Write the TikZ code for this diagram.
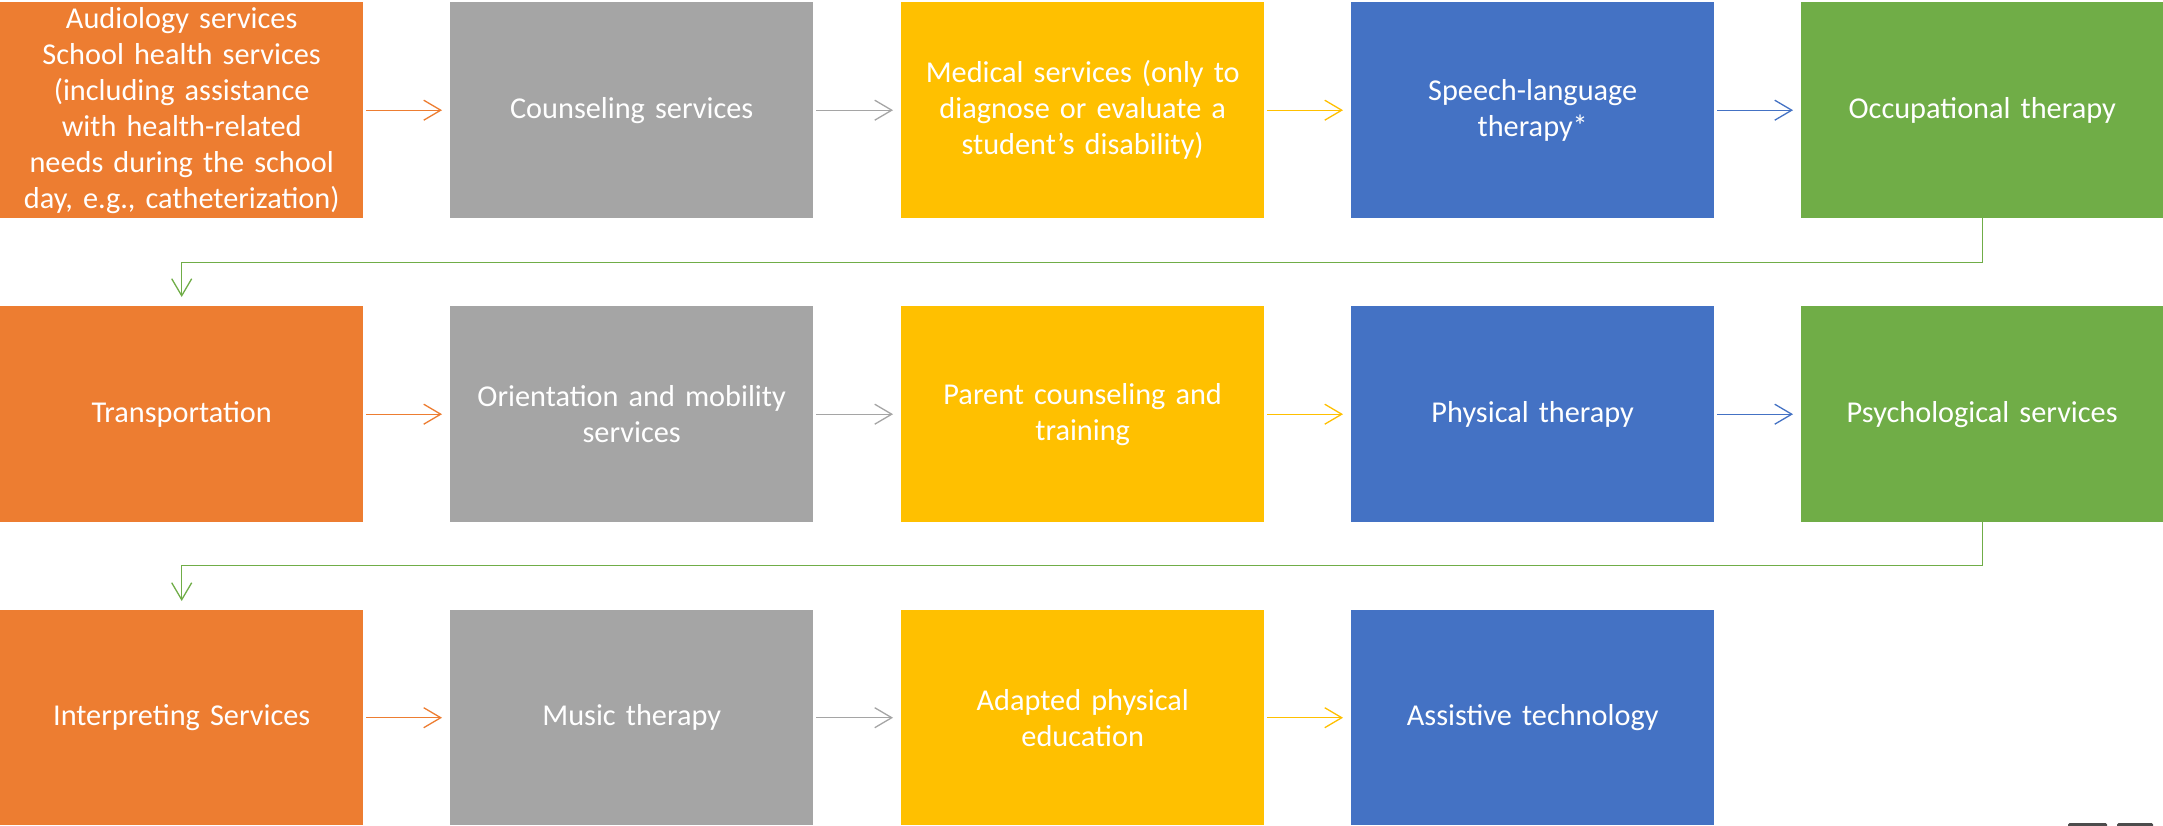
\documentclass[tikz,border=0pt]{standalone}
\usepackage{fontspec}
\setmainfont{Carlito}[WordSpace=0.8]
\usetikzlibrary{arrows.meta}
\definecolor{cOrange}{HTML}{ED7D31}
\definecolor{cGray}{HTML}{A5A5A5}
\definecolor{cGold}{HTML}{FFC000}
\definecolor{cBlue}{HTML}{4472C4}
\definecolor{cGreen}{HTML}{70AD47}
\tikzset{
  box/.style={anchor=north west, minimum width=363pt, minimum height=216pt, inner sep=0pt,
    text width=355pt, align=center, text=white,
    font=\fontsize{30.3}{36}\selectfont},
  obox/.style={box, fill=cOrange},
  gbox/.style={box, fill=cGray},
  ybox/.style={box, fill=cGold},
  bbox/.style={box, fill=cBlue},
  grbox/.style={box, fill=cGreen},
  arr/.style={line width=1.3pt, -{Straight Barb[length=17pt,width=20pt,line width=1.3pt]}},
  marker/.style={fill=black!70, rounded corners=1.5pt}
}
\begin{document}
\begin{tikzpicture}[x=1pt,y=-1pt]
\useasboundingbox[fill=white] (0,0) rectangle (2163,825);
% row 1
\node[obox] (a1) at (0,2) {Audiology services\\School health services\\(including assistance\\with health-related\\needs during the school\\day, e.g., catheterization)};
\node[gbox] (b1) at (450,2) {Counseling services};
\node[ybox] (c1) at (901,2) {Medical services (only to\\diagnose or evaluate a\\student’s disability)};
\node[bbox] (d1) at (1351,2) {Speech-language\\therapy*};
\node[grbox, minimum width=362pt] (e1) at (1801,2) {Occupational therapy};
% row 2
\node[obox] (a2) at (0,306) {Transportation};
\node[gbox] (b2) at (450,306) {Orientation and mobility\\services};
\node[ybox] (c2) at (901,306) {Parent counseling and\\training};
\node[bbox] (d2) at (1351,306) {Physical therapy};
\node[grbox, minimum width=362pt] (e2) at (1801,306) {Psychological services};
% row 3
\node[obox, minimum height=215pt] (a3) at (0,610) {Interpreting Services};
\node[gbox, minimum height=215pt] (b3) at (450,610) {Music therapy};
\node[ybox, minimum height=215pt] (c3) at (901,610) {Adapted physical\\education};
\node[bbox, minimum height=215pt] (d3) at (1351,610) {Assistive technology};
% horizontal arrows
\foreach \r in {1,2,3}{
  \draw[arr, cOrange] ([xshift=3pt]a\r.east) -- ([xshift=-8pt]b\r.west);
  \draw[arr, cGray] ([xshift=3pt]b\r.east) -- ([xshift=-8pt]c\r.west);
  \draw[arr, cGold] ([xshift=3pt]c\r.east) -- ([xshift=-8pt]d\r.west);
}
\draw[arr, cBlue] ([xshift=3pt]d1.east) -- ([xshift=-8pt]e1.west);
\draw[arr, cBlue] ([xshift=3pt]d2.east) -- ([xshift=-8pt]e2.west);
% elbow connectors
\draw[arr, cGreen] (e1.south) -- ++(0,44) -| ([yshift=9pt]a2.north);
\draw[arr, cGreen] (e2.south) -- ++(0,43) -| ([yshift=9pt]a3.north);
% small marks at bottom right
\coordinate (m1) at (2068,823);
\coordinate (m2) at (2117,823);
\fill[marker] (m1) rectangle ++(39,6);
\fill[marker] (m2) rectangle ++(36,6);
\end{tikzpicture}
\end{document}
